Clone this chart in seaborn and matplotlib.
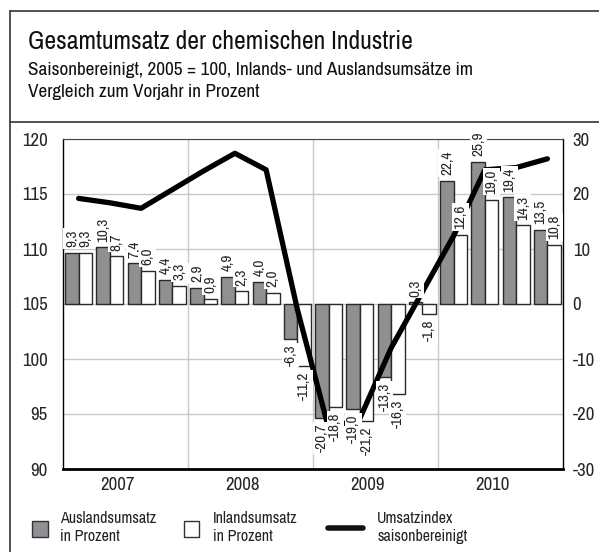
import pandas as pd
import seaborn as sns
import matplotlib.pyplot as plt
import matplotlib.font_manager as fm
from matplotlib.lines import Line2D
from matplotlib.patches import Rectangle

years = ["2007", "2008", "2009", "2010"]
quarters = [f"{y}Q{q}" for y in years for q in range(1, 5)]
ausland = [9.3, 10.3, 7.4, 4.4, 2.9, 4.9, 4.0, -6.3,
           -20.7, -19.0, -13.3, 0.3, 22.4, 25.9, 19.4, 13.5]
inland = [9.3, 8.7, 6.0, 3.3, 0.9, 2.3, 2.0, -11.2,
          -18.8, -21.2, -16.3, -1.8, 12.6, 19.0, 14.3, 10.8]
umsatzindex = [114.6, 114.2, 113.7, 115.4, 117.1, 118.7, 117.2, 104.5,
               93.7, 94.6, 101.0, 106.1, 111.2, 117.2, 117.4, 118.2]

df = pd.DataFrame({
    "Quartal": quarters * 2,
    "Wert": ausland + inland,
    "Reihe": ["Ausland"] * 16 + ["Inland"] * 16,
})
line_df = pd.DataFrame({"pos": range(16), "Index": umsatzindex})

sns.set_style("white")
# look for a narrow face, the original uses a condensed sans
fonts = fm.fontManager.ttflist
narrow = [f for f in fonts if "Narrow" in f.name or "Condensed" in f.name]
cond = [f for f in fonts if f.stretch in ("condensed", "semi-condensed", 300)]
if narrow:
    plt.rcParams["font.family"] = [narrow[0].name, "DejaVu Sans"]
    scale = 1.0
elif cond:
    plt.rcParams["font.family"] = [cond[0].name, "DejaVu Sans"]
    plt.rcParams["font.stretch"] = "condensed"
    scale = 1.0
else:
    plt.rcParams["font.family"] = ["DejaVu Sans"]
    scale = 0.82
plt.rcParams["axes.unicode_minus"] = False

W, H = 599, 552
fig = plt.figure(figsize=(W / 100, H / 100), dpi=100)
ax = fig.add_axes([63 / W, 1 - 469 / H, 500 / W, 330 / H])

gray = "#8f9094"
sns.barplot(data=df, x="Quartal", y="Wert", hue="Reihe", order=quarters,
            palette={"Ausland": gray, "Inland": "white"}, width=0.86,
            edgecolor="#2a2a2a", linewidth=1, legend=False, ax=ax)

ax2 = ax.twinx()
sns.lineplot(data=line_df, x="pos", y="Index", color="black", lw=3.8, ax=ax2)

ax.set_xlim(-0.5, 15.5)
ax.set_ylim(-30, 30)
ax.set_yticks(range(-30, 31, 10))
ax.set_xlabel("")
ax.set_ylabel("")
ax.set_axisbelow(True)
ax.yaxis.grid(True, color="#c8c8c8", lw=1)
for xv in [3.5, 7.5, 11.5]:
    ax.axvline(xv, color="#c8c8c8", lw=1, zorder=0)

ax.set_xticks([-0.5, 3.5, 7.5, 11.5, 15.5])
ax.set_xticklabels([])
ax.set_xticks([1.25, 5.25, 9.25, 13.25], minor=True)
ax.set_xticklabels(years, minor=True, fontsize=13.5 * scale)
ax.tick_params(axis="x", which="major", length=4, width=1, direction="out", color="black")
ax.tick_params(axis="x", which="minor", length=0, pad=6)
ax.tick_params(axis="y", length=0, labelsize=13.5 * scale, pad=7,
               left=False, labelleft=False, right=False, labelright=True)

for side in ["left", "right"]:
    ax.spines[side].set_color("black")
    ax.spines[side].set_linewidth(1)
ax.spines["top"].set_color("#444444")
ax.spines["top"].set_linewidth(0.8)
ax.spines["bottom"].set_color("black")
ax.spines["bottom"].set_linewidth(2)

ax2.set_ylim(90, 120)
ax2.set_yticks(range(90, 121, 5))
ax2.set_ylabel("")
ax2.set_xlabel("")
ax2.tick_params(axis="y", length=0, labelsize=13.5 * scale, pad=11,
                left=False, labelleft=True, right=False, labelright=False)
for s in ax2.spines.values():
    s.set_visible(False)

# value labels (white box hides the line behind them)
for vals, dx in [(ausland, -0.215), (inland, 0.215)]:
    for i, v in enumerate(vals):
        txt = f"{v:.1f}".replace(".", ",")
        off = 4 if v >= 0 else -4
        ax2.annotate(txt, xy=(i + dx, v), xycoords=ax.transData,
                     xytext=(0, off), textcoords="offset points",
                     rotation=90, ha="center", va="bottom" if v >= 0 else "top",
                     fontsize=11 * scale, zorder=5,
                     bbox=dict(boxstyle="square,pad=0.1", fc="white", ec="none"))

# frame
fc = "#333333"
fig.add_artist(Line2D([10 / W, 10 / W], [0, 1 - 11 / H], color=fc, lw=1.2))
fig.add_artist(Line2D([10 / W, 1], [1 - 11 / H, 1 - 11 / H], color=fc, lw=1.2))
fig.add_artist(Line2D([10 / W, 1], [1 - 122 / H, 1 - 122 / H], color=fc, lw=1.2))

fig.text(28 / W, 1 - 49 / H, "Gesamtumsatz der chemischen Industrie",
         fontsize=18.5 * scale, va="baseline", color="#111111")
fig.text(28 / W, 1 - 75 / H,
         "Saisonbereinigt, 2005 = 100, Inlands- und Auslandsumsätze im",
         fontsize=13.8 * scale, va="baseline", color="#111111")
fig.text(28 / W, 1 - 97 / H, "Vergleich zum Vorjahr in Prozent",
         fontsize=13.8 * scale, va="baseline", color="#111111")

# legend
fig.add_artist(Rectangle((32 / W, 1 - 537 / H), 16 / W, 16 / H,
                         transform=fig.transFigure, fc=gray, ec="#333333", lw=1))
fig.add_artist(Rectangle((184 / W, 1 - 537 / H), 15 / W, 16 / H,
                         transform=fig.transFigure, fc="white", ec="#333333", lw=1))
fig.add_artist(Line2D([328 / W, 363 / W], [1 - 528 / H, 1 - 528 / H],
                      color="#111111", lw=4))
for x0, l1, l2 in [(60, "Auslandsumsatz", "in Prozent"),
                   (213, "Inlandsumsatz", "in Prozent"),
                   (377, "Umsatzindex", "saisonbereinigt")]:
    fig.text(x0 / W, 1 - 523 / H, l1, fontsize=11.5 * scale, va="baseline", color="#222222")
    fig.text(x0 / W, 1 - 541 / H, l2, fontsize=11.5 * scale, va="baseline", color="#222222")

fig.savefig("out.png", dpi=100)
